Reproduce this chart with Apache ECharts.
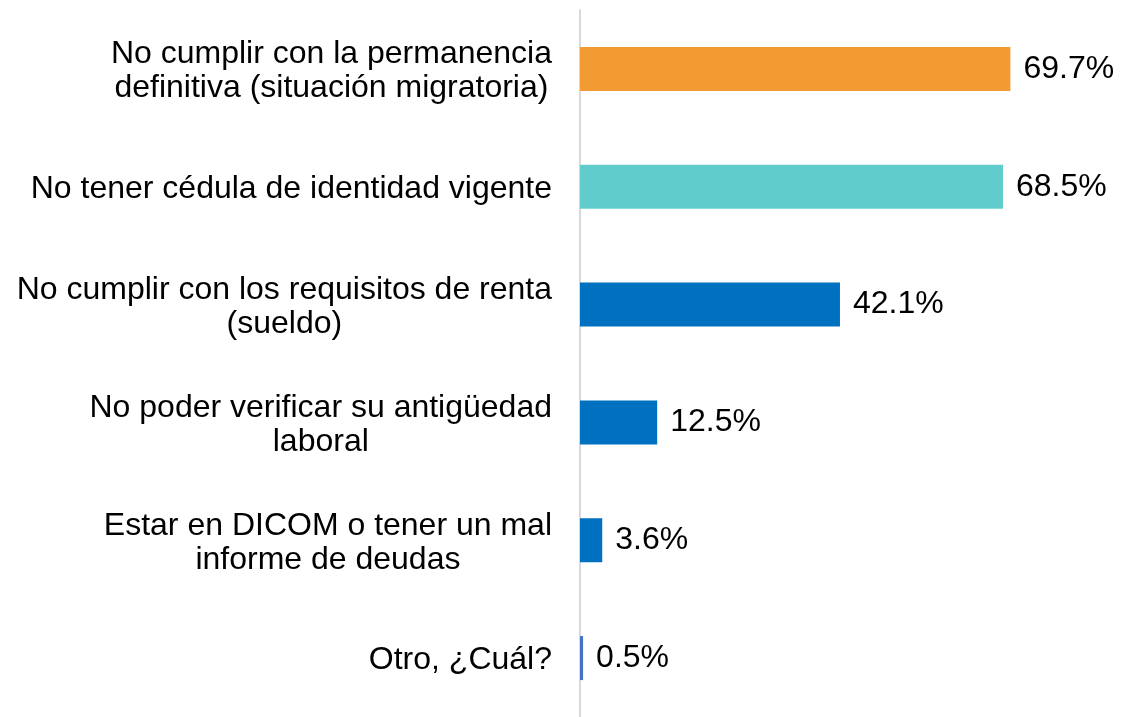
<!DOCTYPE html>
<html>
<head>
<meta charset="utf-8">
<script src="https://cdn.jsdelivr.net/npm/echarts@6/dist/echarts.min.js"></script>
<style>
  html, body { margin: 0; padding: 0; background: #fff; }
  #chart { width: 1122px; height: 717px; }
</style>
</head>
<body>
<div id="chart"></div>
<script>
// categories, top to bottom
const categories = [
  'No cumplir con la permanencia\ndefinitiva (situación migratoria)',
  'No tener cédula de identidad vigente',
  'No cumplir con los requisitos de renta\n(sueldo)',
  'No poder verificar su antigüedad\nlaboral',
  'Estar en DICOM o tener un mal\ninforme de deudas',
  'Otro, ¿Cuál?'
];
const values = [69.7, 68.5, 42.1, 12.5, 3.6, 0.5];
const barColors = ['#F29B33', '#60CDCC', '#0070C0', '#0070C0', '#0070C0', '#4472C4'];

const FONT = 'Liberation Sans, Arial, sans-serif';

const chart = echarts.init(document.getElementById('chart'));

chart.setOption({
  animation: false,
  grid: { left: 580, top: 10, width: 494, height: 712 },
  xAxis: {
    type: 'value',
    min: 0,
    max: 80,
    show: false
  },
  yAxis: {
    type: 'category',
    inverse: true,
    data: categories,
    axisLine: { show: true, lineStyle: { color: '#d9d9d9', width: 2 } },
    axisTick: { show: false },
    axisLabel: {
      margin: 28,
      align: 'right',
      padding: [5, 0, 0, 0],
      // each line centred inside the label block, like the original
      formatter: (v) => v.split('\n').map((s) => '{c|' + s + '}').join('\n'),
      rich: {
        c: {
          align: 'center',
          color: '#000',
          fontFamily: FONT,
          fontSize: 32,
          lineHeight: 34
        }
      }
    }
  },
  series: [{
    type: 'bar',
    barWidth: 44,
    data: values.map((v, i) => ({ value: v, itemStyle: { color: barColors[i] } })),
    label: {
      show: true,
      position: 'right',
      distance: 13,
      padding: [4, 0, 0, 0],
      color: '#000',
      fontFamily: FONT,
      fontSize: 32,
      formatter: (p) => p.value.toFixed(1) + '%'
    },
    emphasis: { disabled: true }
  }]
});
</script>
</body>
</html>
